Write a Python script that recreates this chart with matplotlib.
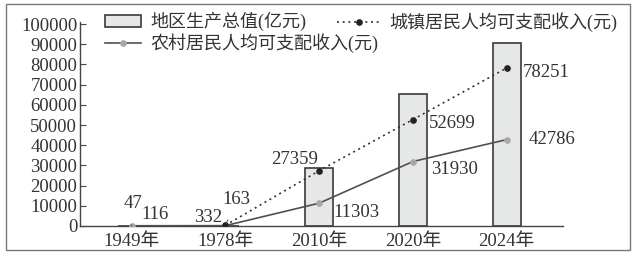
import matplotlib
matplotlib.use("Agg")
import matplotlib.pyplot as plt
from matplotlib.patches import Rectangle
import numpy as np

plt.rcParams['font.family'] = ['Liberation Serif', 'Noto Sans CJK SC']

years = ['1949年', '1978年', '2010年', '2020年', '2024年']
gdp = [47, 163, 28500, 65500, 90500]
urban = [np.nan, 332, 27359, 52699, 78251]
rural = [116, 163, 11303, 31930, 42786]
yticks = [0, 10000, 20000, 30000, 40000, 50000, 60000, 70000, 80000, 90000, 100000]

W, H = 633, 258
fig = plt.figure(figsize=(W/100, H/100), dpi=100)
ax = fig.add_axes([80/W, 1-226/H, (563-80)/W, (226-22)/H])

x = np.arange(len(years))
bars = ax.bar(x, gdp, width=0.3, color='#e6e8e8', edgecolor='#3a3a3a', linewidth=1.2,
              label='地区生产总值(亿元)', zorder=1)
lr, = ax.plot(x, rural, color='#505050', lw=1.2, marker='o', ms=3.8,
              mfc='#a8a8a8', mec='#a8a8a8', label='农村居民人均可支配收入(元)', zorder=3)
lu, = ax.plot(x, urban, color='#333333', lw=1.2, ls=(0, (1.2, 2.2)), marker='o', ms=3.8,
              mfc='#222222', mec='#222222', label='城镇居民人均可支配收入(元)', zorder=3)

fs = 13.5
tc = '#333333'

ax.set_xlim(-0.55, 4.6)
ax.set_ylim(0, 101000)
ax.set_yticks(yticks)
ax.set_yticklabels([str(v) for v in yticks], fontsize=fs, color=tc)
ax.set_xticks(x)
ax.set_xticklabels(years, fontsize=fs, color=tc)
ax.tick_params(axis='y', direction='in', length=4, width=0.8, color='#444444', pad=2)
ax.tick_params(axis='x', length=0, pad=5)
for s in ['top', 'right']:
    ax.spines[s].set_visible(False)
for s in ['left', 'bottom']:
    ax.spines[s].set_color('#444444')
    ax.spines[s].set_linewidth(1.0)

def lab(txt, xi, yv, dx, dy, ha='left', va='center'):
    ax.annotate(txt, (xi, yv), xytext=(dx, dy), textcoords='offset pixels',
                ha=ha, va=va, fontsize=fs, color=tc)

lab('27359', 2, urban[2], -25, 11, ha='center')
lab('52699', 3, urban[3], 16, -4)
lab('78251', 4, urban[4], 16, -5)
lab('11303', 2, rural[2], 14, -9)
lab('31930', 3, rural[3], 18, -8)
lab('42786', 4, rural[4], 22, 0)

ax.annotate('47', (0, gdp[0]), xytext=(1, 22), textcoords='offset pixels',
            ha='center', va='center', fontsize=fs, color=tc,
            arrowprops=dict(arrowstyle='-', color='#555555', lw=0.8, shrinkA=7, shrinkB=2))
lab('116', 0, rural[0], 10, 11)
lab('332', 1, urban[1], -3, 8, ha='right')
ax.annotate('163', (1, rural[1]), xytext=(11, 26), textcoords='offset pixels',
            ha='center', va='center', fontsize=fs, color=tc,
            arrowprops=dict(arrowstyle='-', color='#555555', lw=0.8, shrinkA=7, shrinkB=2))

lfs = 13
leg1 = fig.legend([bars, lr], ['地区生产总值(亿元)', '农村居民人均可支配收入(元)'],
                  loc='upper left', bbox_to_anchor=(98/W, 1-5/H), frameon=False,
                  fontsize=lfs, handlelength=2.0, labelspacing=0.12,
                  handletextpad=0.5, borderaxespad=0)
leg2 = fig.legend([lu], ['城镇居民人均可支配收入(元)'],
                  loc='upper left', bbox_to_anchor=(330/W, 1-5/H), frameon=False,
                  fontsize=lfs, handlelength=2.4, handletextpad=0.5, borderaxespad=0)
for lg in (leg1, leg2):
    for t in lg.get_texts():
        t.set_color(tc)

fig.patches.append(Rectangle((6/W, 1-250/H), (630-6)/W, (250-4)/H,
                             transform=fig.transFigure, fill=False,
                             edgecolor='#777777', lw=1.0))

fig.savefig('out.png', dpi=100)
